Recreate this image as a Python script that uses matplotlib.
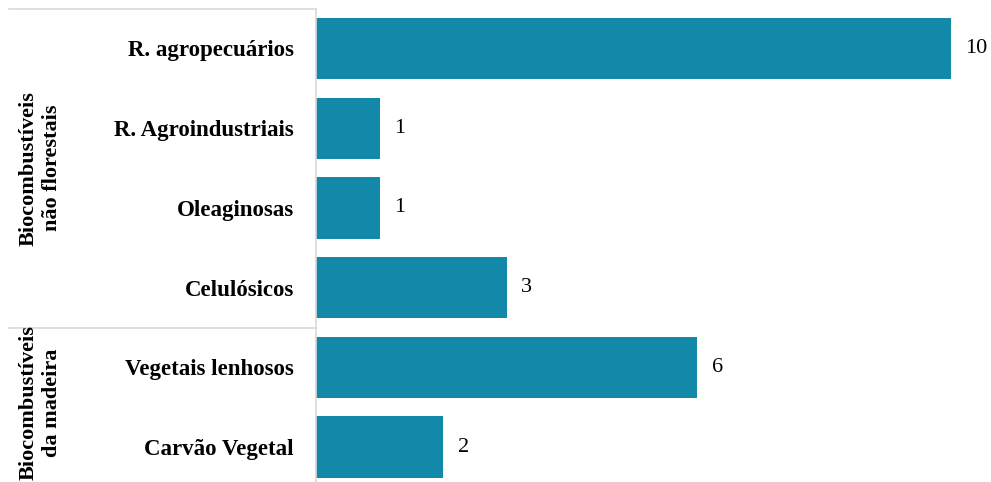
import matplotlib
matplotlib.use("Agg")
import matplotlib.pyplot as plt
import matplotlib.transforms as mtransforms

categories = ["R. agropecuários", "R. Agroindustriais", "Oleaginosas", "Celulósicos",
              "Vegetais lenhosos", "Carvão Vegetal"]
values = [10, 1, 1, 3, 6, 2]
groups = ["Biocombustíveis\nnão florestais", "Biocombustíveis\nda madeira"]
group_sizes = [4, 2]

plt.rcParams['font.family'] = ['Liberation Serif', 'DejaVu Serif']

W, H = 991, 482
fig = plt.figure(figsize=(W / 100, H / 100), dpi=100)
ax_left = 316 / W
top_px, bot_px = 8.6, 487.0
ax = fig.add_axes([ax_left, (H - bot_px) / H, 1 - ax_left, (bot_px - top_px) / H])

color = "#1289a8"
ypos = list(range(len(categories)))
ax.barh(ypos, values, height=0.77, color=color)
ax.set_ylim(5.5, -0.5)
ax.set_xlim(0, (W - 316) / 63.5)

ax.set_yticks(ypos)
ax.set_yticklabels(categories, fontsize=16.5, fontweight='bold')
ax.tick_params(axis='y', length=0, pad=16)
ax.set_xticks([])
for s in ['top', 'right', 'bottom']:
    ax.spines[s].set_visible(False)
ax.spines['left'].set_color('#d9d9d9')
ax.spines['left'].set_linewidth(1.2)

for y, v in zip(ypos, values):
    ax.annotate(str(v), (v, y), xytext=(10.5, 0), textcoords='offset points',
                va='center', ha='left', fontsize=16)

# group separators and labels
trans = mtransforms.blended_transform_factory(fig.transFigure, ax.transData)
start = -0.5
shifts = [0, 0.06]
for g, n, sh in zip(groups, group_sizes, shifts):
    ax.plot([9 / W, ax_left], [start, start], color='#d9d9d9', lw=1.2,
            transform=trans, clip_on=False)
    end = start + n
    ax.text(40 / W, (start + end) / 2 - sh, g, rotation=90, ha='center', va='center',
            fontsize=16, fontweight='bold', transform=trans, linespacing=1.25,
            multialignment='center')
    start = end

fig.savefig("out.png", dpi=100)
